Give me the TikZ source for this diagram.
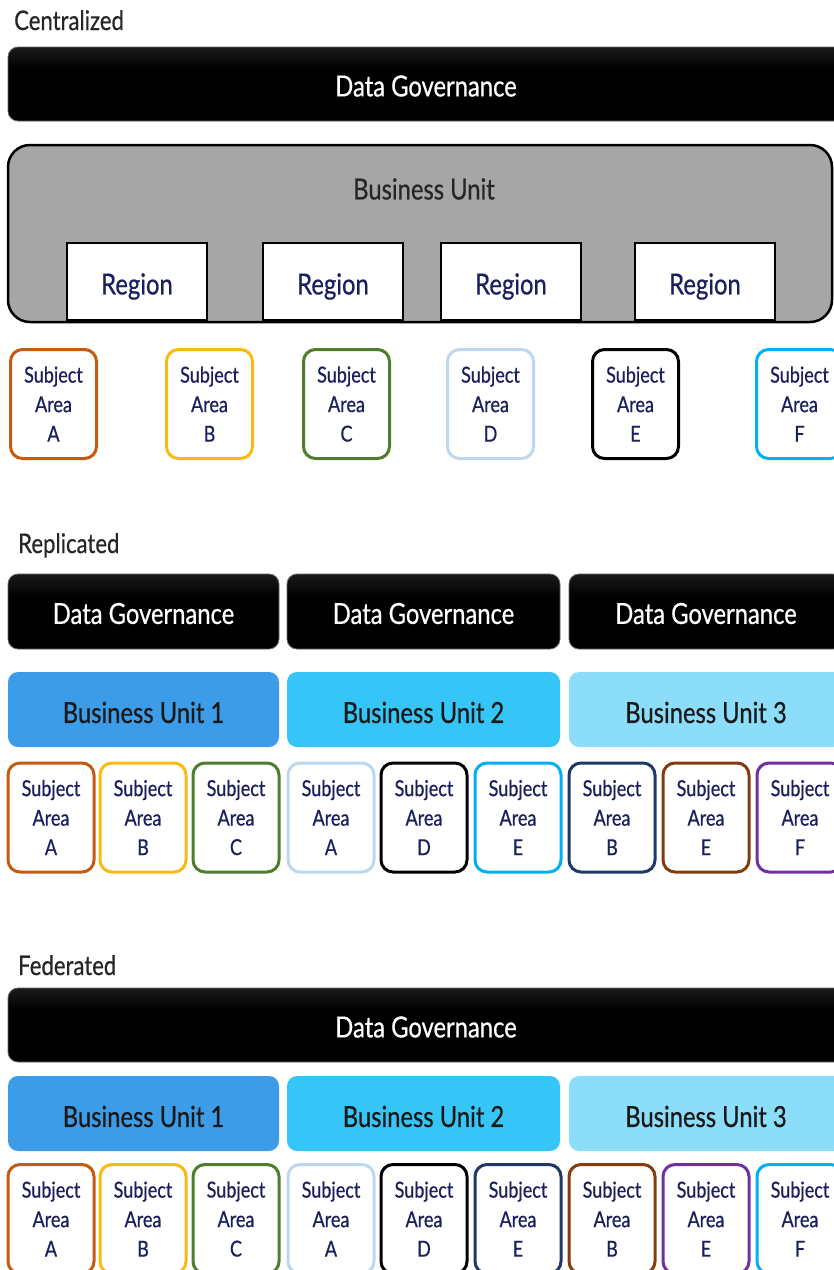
\documentclass[tikz,border=0pt]{standalone}
\usepackage{fontspec}
\setmainfont{Lato}[FakeStretch=0.82,FakeBold=0.6]
\usetikzlibrary{positioning}
\definecolor{cA}{HTML}{C55A11}
\definecolor{cB}{HTML}{FBBA12}
\definecolor{cC}{HTML}{4E7D2C}
\definecolor{cD}{HTML}{BDD7EE}
\definecolor{cE}{HTML}{000000}
\definecolor{cF}{HTML}{00B0F0}
\definecolor{cNavy}{HTML}{1F3864}
\definecolor{cBrown}{HTML}{843C0C}
\definecolor{cPurple}{HTML}{7030A0}
\definecolor{buOne}{HTML}{3D9CE8}
\definecolor{buTwo}{HTML}{36C5F7}
\definecolor{buThree}{HTML}{8BDDFA}
\definecolor{grayBU}{HTML}{A6A6A6}
\definecolor{navyText}{HTML}{1B1F5C}
\pgfdeclareverticalshading{govshade}{100bp}{color(0bp)=(black); color(60bp)=(black); color(100bp)=(black!72)}
\tikzset{
  title/.style={anchor=base west, inner sep=0pt, font=\fontsize{27}{30}\selectfont, text=black!85},
  gov/.style={shading=govshade, draw=black!60, line width=0.8pt, rounded corners=10pt, inner sep=0pt,
    text=white, font=\fontsize{29}{32}\selectfont},
  bunit/.style={rounded corners=10pt, inner sep=0pt, text=black!90, font=\fontsize{29}{32}\selectfont},
  graybox/.style={fill=grayBU, draw=black, line width=2.5pt, rounded corners=22pt, inner sep=0pt},
  regionbox/.style={fill=white, draw=black, line width=2.5pt, minimum width=140pt, minimum height=77pt,
    inner sep=0pt, text=navyText, font=\fontsize{29}{32}\selectfont},
  sa/.style={fill=white, line width=3pt, rounded corners=12pt, minimum width=86pt, minimum height=109pt,
    inner sep=0pt, align=center, text=navyText, font=\fontsize{22}{29.5}\selectfont},
}
\newcommand{\subj}[5]{\node[sa, draw=#4] (#1) at (#2,#3) {Subject\\Area\\#5};}
\newcommand{\lowtxt}[2]{\raisebox{-#1pt}[\height][\depth]{#2}}
\begin{document}
\begin{tikzpicture}[x=1pt, y=-1pt]
\useasboundingbox (0,0) rectangle (834,1270);
\clip (0,0) rectangle (834,1270);
% ---------------- Centralized
\node[title] (tcen) at (14,30) {Centralized};
\node[gov, minimum width=836pt, minimum height=74pt] (gcen) at (426,84) {\lowtxt{2}{Data Governance}};
\node[graybox, minimum width=824pt, minimum height=177pt] (bucen) at (420,233.5) {};
\node[inner sep=0pt, text=black!85, font=\fontsize{29}{32}\selectfont] (bucenlbl) at (424,189) {Business Unit};
\node[regionbox] (r1) at (137,281.5) {\lowtxt{5}{Region}};
\node[regionbox] (r2) at (333,281.5) {\lowtxt{5}{Region}};
\node[regionbox] (r3) at (511,281.5) {\lowtxt{5}{Region}};
\node[regionbox] (r4) at (705,281.5) {\lowtxt{5}{Region}};
\subj{ca}{53.5}{404}{cA}{A}
\subj{cb}{209.5}{404}{cB}{B}
\subj{cc}{346.5}{404}{cC}{C}
\subj{cd}{490.5}{404}{cD}{D}
\subj{ce}{635.5}{404}{cE}{E}
\subj{cf}{799.5}{404}{cF}{F}
% ---------------- Replicated
\node[title] (trep) at (18,553) {Replicated};
\node[gov, minimum width=271pt, minimum height=75pt] (g1) at (143.5,611.5) {\lowtxt{2}{Data Governance}};
\node[gov, minimum width=273pt, minimum height=75pt] (g2) at (423.5,611.5) {\lowtxt{2}{Data Governance}};
\node[gov, minimum width=274pt, minimum height=75pt] (g3) at (706,611.5) {\lowtxt{2}{Data Governance}};
\node[bunit, fill=buOne, minimum width=271pt, minimum height=75pt] (b1) at (143.5,709.5) {\lowtxt{3}{Business Unit 1}};
\node[bunit, fill=buTwo, minimum width=273pt, minimum height=75pt] (b2) at (423.5,709.5) {\lowtxt{3}{Business Unit 2}};
\node[bunit, fill=buThree, minimum width=274pt, minimum height=75pt] (b3) at (706,709.5) {\lowtxt{3}{Business Unit 3}};
\subj{ra1}{51}{817.5}{cA}{A}
\subj{ra2}{143}{817.5}{cB}{B}
\subj{ra3}{236}{817.5}{cC}{C}
\subj{ra4}{331}{817.5}{cD}{A}
\subj{ra5}{424}{817.5}{cE}{D}
\subj{ra6}{518}{817.5}{cF}{E}
\subj{ra7}{612}{817.5}{cNavy}{B}
\subj{ra8}{706}{817.5}{cBrown}{E}
\subj{ra9}{800}{817.5}{cPurple}{F}
% ---------------- Federated
\node[title] (tfed) at (18,975) {Federated};
\node[gov, minimum width=836pt, minimum height=74pt] (gfed) at (426,1025) {\lowtxt{2}{Data Governance}};
\node[bunit, fill=buOne, minimum width=271pt, minimum height=75pt] (f1) at (143.5,1113.5) {\lowtxt{3}{Business Unit 1}};
\node[bunit, fill=buTwo, minimum width=273pt, minimum height=75pt] (f2) at (423.5,1113.5) {\lowtxt{3}{Business Unit 2}};
\node[bunit, fill=buThree, minimum width=274pt, minimum height=75pt] (f3) at (706,1113.5) {\lowtxt{3}{Business Unit 3}};
\subj{fa1}{51}{1219}{cA}{A}
\subj{fa2}{143}{1219}{cB}{B}
\subj{fa3}{236}{1219}{cC}{C}
\subj{fa4}{331}{1219}{cD}{A}
\subj{fa5}{424}{1219}{cE}{D}
\subj{fa6}{518}{1219}{cNavy}{E}
\subj{fa7}{612}{1219}{cBrown}{B}
\subj{fa8}{706}{1219}{cPurple}{E}
\subj{fa9}{800}{1219}{cF}{F}
\end{tikzpicture}
\end{document}
